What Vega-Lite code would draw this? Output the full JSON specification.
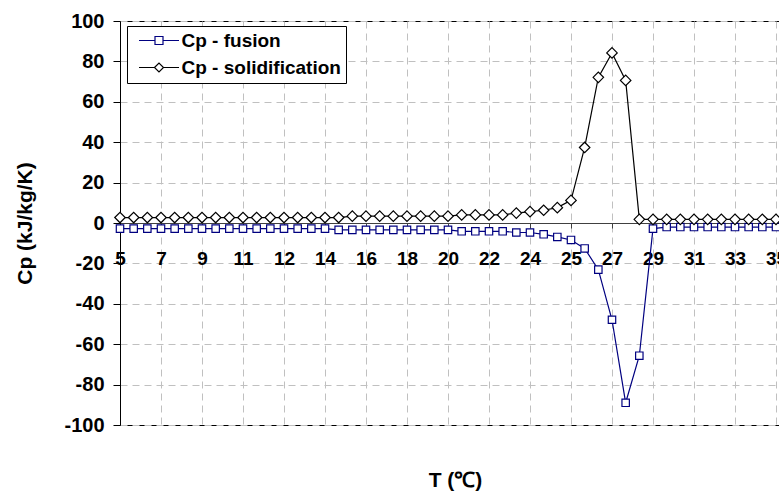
{
  "$schema": "https://vega.github.io/schema/vega-lite/v6.json",
  "autosize": "none",
  "padding": {"left": 120, "top": 21, "right": 0, "bottom": 66},
  "width": 662,
  "height": 404,
  "background": "white",
  "config": {
    "view": {"stroke": "black", "strokeWidth": 1},
    "font": "Liberation Sans"
  },
  "datasets": {
    "cp": [
      {"i": 0, "series": "Cp - fusion", "cp": -2.8},
      {"i": 1, "series": "Cp - fusion", "cp": -2.8},
      {"i": 2, "series": "Cp - fusion", "cp": -2.8},
      {"i": 3, "series": "Cp - fusion", "cp": -2.8},
      {"i": 4, "series": "Cp - fusion", "cp": -2.8},
      {"i": 5, "series": "Cp - fusion", "cp": -2.8},
      {"i": 6, "series": "Cp - fusion", "cp": -2.8},
      {"i": 7, "series": "Cp - fusion", "cp": -2.8},
      {"i": 8, "series": "Cp - fusion", "cp": -2.8},
      {"i": 9, "series": "Cp - fusion", "cp": -2.8},
      {"i": 10, "series": "Cp - fusion", "cp": -2.8},
      {"i": 11, "series": "Cp - fusion", "cp": -2.8},
      {"i": 12, "series": "Cp - fusion", "cp": -2.8},
      {"i": 13, "series": "Cp - fusion", "cp": -2.8},
      {"i": 14, "series": "Cp - fusion", "cp": -2.8},
      {"i": 15, "series": "Cp - fusion", "cp": -2.8},
      {"i": 16, "series": "Cp - fusion", "cp": -3.4},
      {"i": 17, "series": "Cp - fusion", "cp": -3.4},
      {"i": 18, "series": "Cp - fusion", "cp": -3.4},
      {"i": 19, "series": "Cp - fusion", "cp": -3.4},
      {"i": 20, "series": "Cp - fusion", "cp": -3.4},
      {"i": 21, "series": "Cp - fusion", "cp": -3.4},
      {"i": 22, "series": "Cp - fusion", "cp": -3.4},
      {"i": 23, "series": "Cp - fusion", "cp": -3.4},
      {"i": 24, "series": "Cp - fusion", "cp": -3.4},
      {"i": 25, "series": "Cp - fusion", "cp": -4.1},
      {"i": 26, "series": "Cp - fusion", "cp": -4.1},
      {"i": 27, "series": "Cp - fusion", "cp": -4.1},
      {"i": 28, "series": "Cp - fusion", "cp": -4.1},
      {"i": 29, "series": "Cp - fusion", "cp": -4.7},
      {"i": 30, "series": "Cp - fusion", "cp": -4.7},
      {"i": 31, "series": "Cp - fusion", "cp": -5.6},
      {"i": 32, "series": "Cp - fusion", "cp": -6.9},
      {"i": 33, "series": "Cp - fusion", "cp": -8.4},
      {"i": 34, "series": "Cp - fusion", "cp": -12.6},
      {"i": 35, "series": "Cp - fusion", "cp": -23.1},
      {"i": 36, "series": "Cp - fusion", "cp": -47.9},
      {"i": 37, "series": "Cp - fusion", "cp": -89.0},
      {"i": 38, "series": "Cp - fusion", "cp": -65.7},
      {"i": 39, "series": "Cp - fusion", "cp": -2.8},
      {"i": 40, "series": "Cp - fusion", "cp": -2.0},
      {"i": 41, "series": "Cp - fusion", "cp": -2.0},
      {"i": 42, "series": "Cp - fusion", "cp": -2.0},
      {"i": 43, "series": "Cp - fusion", "cp": -2.0},
      {"i": 44, "series": "Cp - fusion", "cp": -2.0},
      {"i": 45, "series": "Cp - fusion", "cp": -2.0},
      {"i": 46, "series": "Cp - fusion", "cp": -2.0},
      {"i": 47, "series": "Cp - fusion", "cp": -2.0},
      {"i": 48, "series": "Cp - fusion", "cp": -2.0},
      {"i": 0, "series": "Cp - solidification", "cp": 2.7},
      {"i": 1, "series": "Cp - solidification", "cp": 2.7},
      {"i": 2, "series": "Cp - solidification", "cp": 2.7},
      {"i": 3, "series": "Cp - solidification", "cp": 2.7},
      {"i": 4, "series": "Cp - solidification", "cp": 2.7},
      {"i": 5, "series": "Cp - solidification", "cp": 2.7},
      {"i": 6, "series": "Cp - solidification", "cp": 2.7},
      {"i": 7, "series": "Cp - solidification", "cp": 2.7},
      {"i": 8, "series": "Cp - solidification", "cp": 2.7},
      {"i": 9, "series": "Cp - solidification", "cp": 2.7},
      {"i": 10, "series": "Cp - solidification", "cp": 2.7},
      {"i": 11, "series": "Cp - solidification", "cp": 2.7},
      {"i": 12, "series": "Cp - solidification", "cp": 2.7},
      {"i": 13, "series": "Cp - solidification", "cp": 2.7},
      {"i": 14, "series": "Cp - solidification", "cp": 2.7},
      {"i": 15, "series": "Cp - solidification", "cp": 2.7},
      {"i": 16, "series": "Cp - solidification", "cp": 2.7},
      {"i": 17, "series": "Cp - solidification", "cp": 3.4},
      {"i": 18, "series": "Cp - solidification", "cp": 3.4},
      {"i": 19, "series": "Cp - solidification", "cp": 3.4},
      {"i": 20, "series": "Cp - solidification", "cp": 3.4},
      {"i": 21, "series": "Cp - solidification", "cp": 3.4},
      {"i": 22, "series": "Cp - solidification", "cp": 3.4},
      {"i": 23, "series": "Cp - solidification", "cp": 3.4},
      {"i": 24, "series": "Cp - solidification", "cp": 3.4},
      {"i": 25, "series": "Cp - solidification", "cp": 4.0},
      {"i": 26, "series": "Cp - solidification", "cp": 4.0},
      {"i": 27, "series": "Cp - solidification", "cp": 4.0},
      {"i": 28, "series": "Cp - solidification", "cp": 4.0},
      {"i": 29, "series": "Cp - solidification", "cp": 4.9},
      {"i": 30, "series": "Cp - solidification", "cp": 5.6},
      {"i": 31, "series": "Cp - solidification", "cp": 6.3},
      {"i": 32, "series": "Cp - solidification", "cp": 7.6},
      {"i": 33, "series": "Cp - solidification", "cp": 11.2},
      {"i": 34, "series": "Cp - solidification", "cp": 37.4},
      {"i": 35, "series": "Cp - solidification", "cp": 72.1},
      {"i": 36, "series": "Cp - solidification", "cp": 84.2},
      {"i": 37, "series": "Cp - solidification", "cp": 70.6},
      {"i": 38, "series": "Cp - solidification", "cp": 1.8},
      {"i": 39, "series": "Cp - solidification", "cp": 1.8},
      {"i": 40, "series": "Cp - solidification", "cp": 1.8},
      {"i": 41, "series": "Cp - solidification", "cp": 1.8},
      {"i": 42, "series": "Cp - solidification", "cp": 1.8},
      {"i": 43, "series": "Cp - solidification", "cp": 1.8},
      {"i": 44, "series": "Cp - solidification", "cp": 1.8},
      {"i": 45, "series": "Cp - solidification", "cp": 1.8},
      {"i": 46, "series": "Cp - solidification", "cp": 1.8},
      {"i": 47, "series": "Cp - solidification", "cp": 1.8},
      {"i": 48, "series": "Cp - solidification", "cp": 1.8}
    ]
  },
  "data": {"name": "cp"},
  "encoding": {
    "x": {
      "field": "i",
      "type": "quantitative",
      "scale": {"domain": [0, 48.44], "nice": false, "zero": false},
      "axis": {
        "values": [0, 3, 6, 9, 12, 15, 18, 21, 24, 27, 30, 33, 36, 39, 42, 45, 48],
        "labelExpr": "['5','7','9','11','12','14','16','18','20','22','24','25','27','29','31','33','35'][round(datum.value / 3)]",
        "offset": -202,
        "domainColor": "#404040",
        "domainWidth": 1,
        "tickColor": "#404040",
        "tickSize": 5,
        "labelPadding": 30,
        "labelBaseline": "middle",
        "labelFont": "Liberation Sans",
        "labelFontWeight": "bold",
        "labelFontSize": 19,
        "labelColor": "black",
        "labelFlush": false,
        "labelOverlap": false,
        "grid": true,
        "gridColor": "#c0c0c0",
        "gridDash": [7, 5],
        "title": "T (℃)",
        "titleX": 335,
        "titleY": 257,
        "titleAlign": "center",
        "titleBaseline": "middle",
        "titleFont": "Liberation Sans",
        "titleFontWeight": "bold",
        "titleFontSize": 21,
        "titleColor": "black"
      }
    },
    "y": {
      "field": "cp",
      "type": "quantitative",
      "scale": {"domain": [-100, 100], "nice": false, "zero": false},
      "axis": {
        "values": [-100, -80, -60, -40, -20, 0, 20, 40, 60, 80, 100],
        "labelExpr": "replace(datum.label, '\u2212', '-')",
        "domainColor": "black",
        "tickColor": "black",
        "tickSize": 7,
        "labelPadding": 9,
        "labelFont": "Liberation Sans",
        "labelFontWeight": "bold",
        "labelFontSize": 20,
        "labelColor": "black",
        "labelFlush": false,
        "labelOverlap": false,
        "grid": true,
        "gridColor": "#c0c0c0",
        "gridDash": [7, 5],
        "title": "Cp (kJ/kg/K)",
        "titleX": -95,
        "titleY": 202,
        "titleAngle": -90,
        "titleAlign": "center",
        "titleBaseline": "middle",
        "titleFont": "Liberation Sans",
        "titleFontWeight": "bold",
        "titleFontSize": 21,
        "titleColor": "black"
      }
    }
  },
  "layer": [
    {
      "mark": {"type": "line", "strokeWidth": 1.2},
      "encoding": {
        "color": {
          "field": "series",
          "type": "nominal",
          "scale": {"domain": ["Cp - fusion", "Cp - solidification"], "range": ["#000080", "#000000"]},
          "legend": {
            "title": null,
            "orient": "none",
            "legendX": 7,
            "legendY": 5,
            "padding": 5,
            "strokeColor": "black",
            "fillColor": "white",
            "labelFont": "Liberation Sans",
            "labelFontSize": 19,
            "labelFontWeight": "bold",
            "labelColor": "black",
            "labelLimit": 400,
            "symbolSize": 100,
            "symbolOffset": 17.5,
            "labelOffset": 13,
            "rowPadding": 7,
            "encode": {
              "symbols": {
                "update": {
                  "shape": {"signal": "datum.value === 'Cp - fusion' ? 'M-4,0L-0.8,0M0.8,0L4,0M-0.8,-0.8L0.8,-0.8L0.8,0.8L-0.8,0.8Z' : 'M-4,0L-0.9,0M0.9,0L4,0M-0.9,0L0,-0.9L0.9,0L0,0.9Z'"},
                  "fill": {"value": "white"},
                  "strokeWidth": {"value": 1.2},
                  "size": {"value": 100}
                }
              }
            }
          }
        }
      }
    },
    {
      "transform": [{"filter": "datum.series === 'Cp - fusion'"}],
      "mark": {"type": "point", "shape": "square", "size": 55, "filled": true, "fill": "white", "stroke": "#000080", "strokeWidth": 1.2, "opacity": 1}
    },
    {
      "transform": [{"filter": "datum.series === 'Cp - solidification'"}],
      "mark": {"type": "point", "shape": "diamond", "size": 110, "filled": true, "fill": "white", "stroke": "#000000", "strokeWidth": 1.2, "opacity": 1}
    }
  ]
}
